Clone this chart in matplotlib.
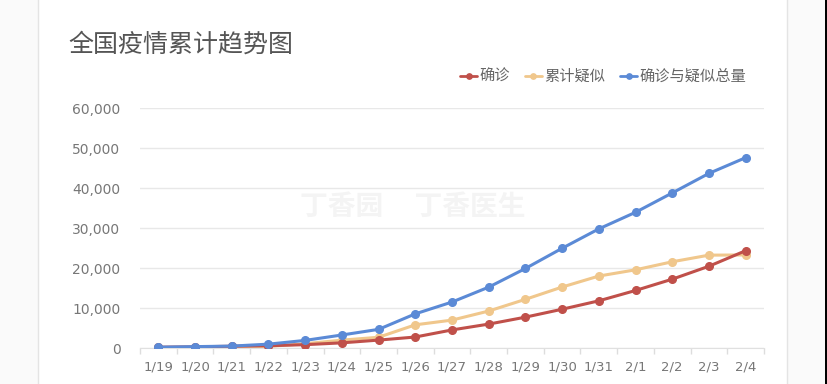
import matplotlib
matplotlib.use("Agg")
import matplotlib.pyplot as plt
from matplotlib.patches import Rectangle

plt.rcParams['font.family'] = ['Noto Sans CJK SC', 'DejaVu Sans']

dates = ["1/19", "1/20", "1/21", "1/22", "1/23", "1/24", "1/25", "1/26", "1/27",
         "1/28", "1/29", "1/30", "1/31", "2/1", "2/2", "2/3", "2/4"]
confirmed = [198, 291, 440, 571, 830, 1287, 1975, 2744, 4515, 5974, 7711, 9692,
             11791, 14380, 17205, 20438, 24324]
suspected = [0, 54, 37, 393, 1072, 1965, 2684, 5794, 6973, 9239, 12167, 15238,
             17988, 19544, 21558, 23214, 23260]
total = [198, 345, 477, 964, 1902, 3252, 4659, 8538, 11488, 15213, 19878, 24930,
         29779, 33924, 38763, 43652, 47584]
series_names = ["确诊", "累计疑似", "确诊与疑似总量"]
series_colors = ["#c0504a", "#f0c78c", "#5b8ad6"]
yticks = [0, 10000, 20000, 30000, 40000, 50000, 60000]
title = "全国疫情累计趋势图"

fig = plt.figure(figsize=(8.28, 3.84), dpi=100)
fig.patch.set_facecolor("#fafafa")
# card
fig.patches.append(Rectangle((38/828, -0.05), (787-38)/828, 1.1, transform=fig.transFigure,
                             facecolor="white", edgecolor="#e4e4e4", linewidth=1.0, zorder=-10))
fig.patches.append(Rectangle((825/828, 0), 3/828, 1, transform=fig.transFigure,
                             facecolor="black", edgecolor="none", zorder=-10))

ax = fig.add_axes([140/828, 1-348/384, (764-140)/828, (348-108)/384])
ax.set_zorder(1)
ax.set_facecolor("none")
x = list(range(len(dates)))
data = [confirmed, suspected, total]
zs = [3, 2, 4]
for vals, name, col, z in zip(data, series_names, series_colors, zs):
    ax.plot(x, vals, color=col, lw=2.2, marker="o", ms=5.5, mec=col, mfc=col,
            label=name, zorder=z, solid_capstyle="round")

ax.set_xlim(-0.5, len(dates) - 0.5)
ax.set_ylim(0, 60000)
ax.set_yticks(yticks)
ax.set_yticklabels([f"{v:,}" for v in yticks], family="DejaVu Sans")
ax.set_xticks(x)
ax.set_xticklabels(dates, family="DejaVu Sans")
ax.set_xticks([i + 0.5 for i in range(-1, len(dates))], minor=True)
ax.tick_params(axis="y", length=0, pad=14, labelsize=10, labelcolor="#777777")
ax.tick_params(axis="x", which="major", length=0, pad=9, labelsize=9.5, labelcolor="#777777")
ax.tick_params(axis="x", which="minor", length=4, color="#dddddd", width=1)
ax.grid(axis="y", color="#e8e8e8", lw=1.0, zorder=0)
for s in ["top", "right", "left"]:
    ax.spines[s].set_visible(False)
ax.spines["bottom"].set_color("#e0e0e0")
ax.set_axisbelow(True)

# watermark
ax.text(300/828, 1-207/384, "丁香园     丁香医生", fontsize=20, color="#f4f4f4",
        ha="left", va="center", zorder=0.5, fontweight="bold", transform=fig.transFigure)

fig.text(68/828, 1-45/384, title, fontsize=18, color="#555555", ha="left", va="center",
         fontweight="light")

leg = ax.legend(loc="lower right", bbox_to_anchor=(760/828, 1-99/384), bbox_transform=fig.transFigure,
                ncol=3, frameon=False, fontsize=11, handlelength=1.1, handletextpad=0.15,
                columnspacing=1.0, markerscale=0.7)
for t in leg.get_texts():
    t.set_color("#666666")
for h in leg.get_lines():
    h.set_linewidth(2.0)

fig.savefig("out.png", dpi=100, facecolor=fig.get_facecolor())
